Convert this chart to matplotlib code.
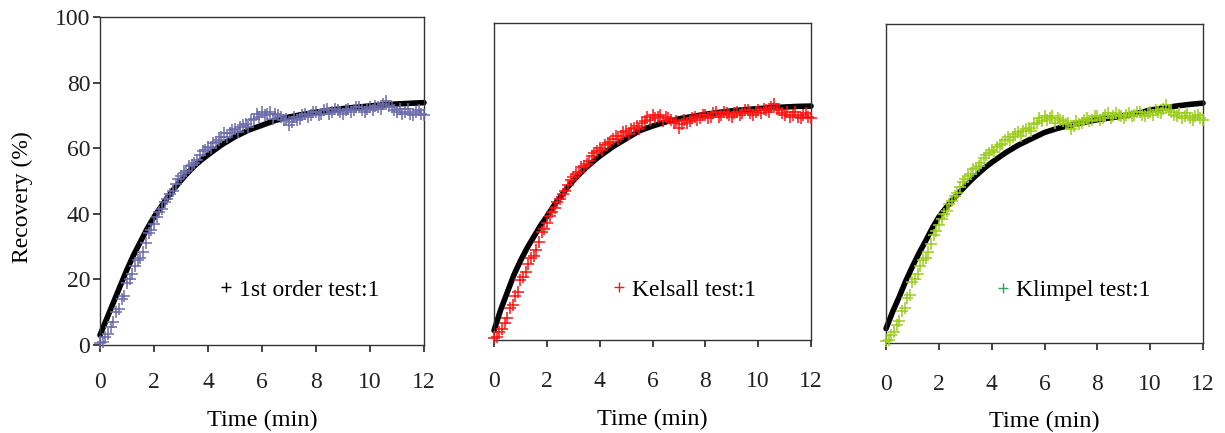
import matplotlib
matplotlib.use("Agg")
import matplotlib.pyplot as plt
from matplotlib.lines import Line2D

plt.rcParams['font.family'] = ['Liberation Serif', 'DejaVu Serif']

# measured flotation test data (same test in every panel)
t_exp = [0.0, 0.1, 0.2, 0.3, 0.4, 0.5, 0.6, 0.7, 0.8, 0.9,
         1.0, 1.1, 1.2, 1.3, 1.4, 1.5, 1.6, 1.7, 1.8, 1.9,
         2.0, 2.1, 2.2, 2.3, 2.4, 2.5, 2.6, 2.7, 2.8, 2.9,
         3.0, 3.1, 3.2, 3.3, 3.4, 3.5, 3.6, 3.7, 3.8, 3.9,
         4.0, 4.1, 4.2, 4.3, 4.4, 4.5, 4.6, 4.7, 4.8, 4.9,
         5.0, 5.1, 5.2, 5.3, 5.4, 5.5, 5.6, 5.7, 5.8, 5.9,
         6.0, 6.1, 6.2, 6.3, 6.4, 6.5, 6.6, 6.7, 6.8, 6.9,
         7.0, 7.1, 7.2, 7.3, 7.4, 7.5, 7.6, 7.7, 7.8, 7.9,
         8.0, 8.1, 8.2, 8.3, 8.4, 8.5, 8.6, 8.7, 8.8, 8.9,
         9.0, 9.1, 9.2, 9.3, 9.4, 9.5, 9.6, 9.7, 9.8, 9.9,
         10.0, 10.1, 10.2, 10.3, 10.4, 10.5, 10.6, 10.7, 10.8, 10.9,
         11.0, 11.1, 11.2, 11.3, 11.4, 11.5, 11.6, 11.7, 11.8, 11.9, 12.0]
rec_exp = [0.5, 1, 2.5, 3.5, 5.5, 7, 10, 11, 14, 15,
           19, 20, 21.5, 24, 26, 26.5, 28.5, 31, 34, 35,
           37, 39, 40.5, 41.5, 43.5, 44.5, 46, 47, 49, 50.5,
           51.5, 52.5, 53, 54.5, 55, 55.5, 56.5, 58, 59, 59.5,
           60.5, 60, 61.5, 62, 62.5, 63.5, 64.5, 63.5, 64.5, 65.5,
           66, 65, 66.5, 67, 67.5, 66.5, 68.5, 69, 70.5, 69.5,
           71, 70, 70.5, 71, 69, 70.5, 70, 69.5, 68.5, 69,
           67, 68, 69.5, 68.5, 69, 70, 70.5, 69.5, 70, 71,
           71, 70, 70.5, 71.5, 72, 70.5, 71, 72, 71.5, 71,
           70.5, 71.5, 72, 71, 71.5, 72.5, 72.5, 71.5, 71, 72,
           72.5, 71.5, 73, 72.5, 72, 73.5, 74.5, 73, 72.5, 71.5,
           71, 72, 70.5, 71, 72, 70.5, 70, 71, 71.5, 70.5, 70]

# model fits
t_fit = [0.0, 0.25, 0.5, 0.75, 1.0, 1.25, 1.5, 1.75, 2.0, 2.25, 2.5, 2.75,
         3.0, 3.25, 3.5, 3.75, 4.0, 4.5, 5.0, 5.5, 6.0, 6.5, 7.0, 7.5,
         8.0, 8.5, 9.0, 9.5, 10.0, 10.5, 11.0, 11.5, 12.0]
fit_first = [3, 8, 13, 18, 23, 27.5, 31.5, 35.5, 39, 42, 45, 47.7,
             50.2, 52.5, 54.6, 56.4, 58, 61, 63.5, 65.5, 67, 68.5, 69.5, 70.3,
             71, 71.6, 72.1, 72.5, 72.9, 73.2, 73.5, 73.7, 73.9]
fit_kelsall = [3, 9.5, 15, 20.5, 25, 29, 32.5, 36, 39, 42.2, 45, 47.8,
               50.3, 52.5, 54.5, 56.3, 58, 61, 63.5, 66, 67.5, 68.8, 69.8, 70.5,
               71.2, 71.8, 72.3, 72.7, 73, 73.3, 73.5, 73.7, 73.8]
fit_klimpel = [4.5, 9.8, 14.5, 19.5, 24, 28.2, 32, 36, 39.5, 42.2, 44.7, 47,
               49.2, 51.3, 53.2, 55, 56.6, 59.5, 62, 64, 66, 67.3, 68.3, 69.2,
               70, 70.6, 71.2, 72, 73, 73.7, 74.3, 74.8, 75.2]

labels = ['1st order test:1', 'Kelsall test:1', 'Klimpel test:1']
fits = [fit_first, fit_kelsall, fit_klimpel]
data_colors = ['#6b6bab', '#ff1414', '#9bcd1e']
legend_colors = ['black', '#ff1414', '#2aa55a']

boxes = [[0.0816, 0.2032, 0.2645, 0.7575],
         [0.4033, 0.2148, 0.2588, 0.7320],
         [0.7233, 0.2079, 0.2588, 0.7367]]
leg_pos = [(0.37, 0.168), (0.375, 0.158), (0.35, 0.166)]
xpads = [14.5, 17.5, 17]

fig = plt.figure(figsize=(12.25, 4.33), dpi=100)

for i in range(3):
    ax = fig.add_axes(boxes[i])
    ax.plot(t_fit, fits[i], color='black', lw=4, zorder=2, clip_on=False,
            solid_capstyle='round')
    ax.plot(t_exp, rec_exp, ls='none', marker='+', color=data_colors[i],
            markersize=8, markeredgewidth=1.1, zorder=3, clip_on=False)

    ax.set_xlim(0, 12)
    ax.set_ylim(0, 100)
    ax.set_xticks([0, 2, 4, 6, 8, 10, 12])
    ax.tick_params(axis='x', direction='out', length=5, width=1.2,
                   labelsize=17, pad=xpads[i], colors='#222222')
    if i == 0:
        ax.set_yticks([0, 20, 40, 60, 80, 100])
        ax.tick_params(axis='y', direction='out', length=5, width=1.2,
                       labelsize=17, pad=2, colors='#222222')
        ax.set_ylabel('Recovery (%)', fontsize=17)
        ax.yaxis.set_label_coords(-0.207, 0.45)
    else:
        ax.set_yticks([])
    for s in ax.spines.values():
        s.set_linewidth(1.0)
        s.set_color('#333333')

    ax.set_xlabel('Time (min)', fontsize=17.5, labelpad=12)

    h = Line2D([0], [0], marker='+', ls='none', color=legend_colors[i],
               markersize=7, markeredgewidth=1.0)
    ax.legend([h], [labels[i]], loc='center left', bbox_to_anchor=leg_pos[i],
              frameon=False, fontsize=17, handlelength=0.5, handletextpad=0.3,
              borderpad=0, borderaxespad=0)

fig.savefig('out.png', dpi=100)
